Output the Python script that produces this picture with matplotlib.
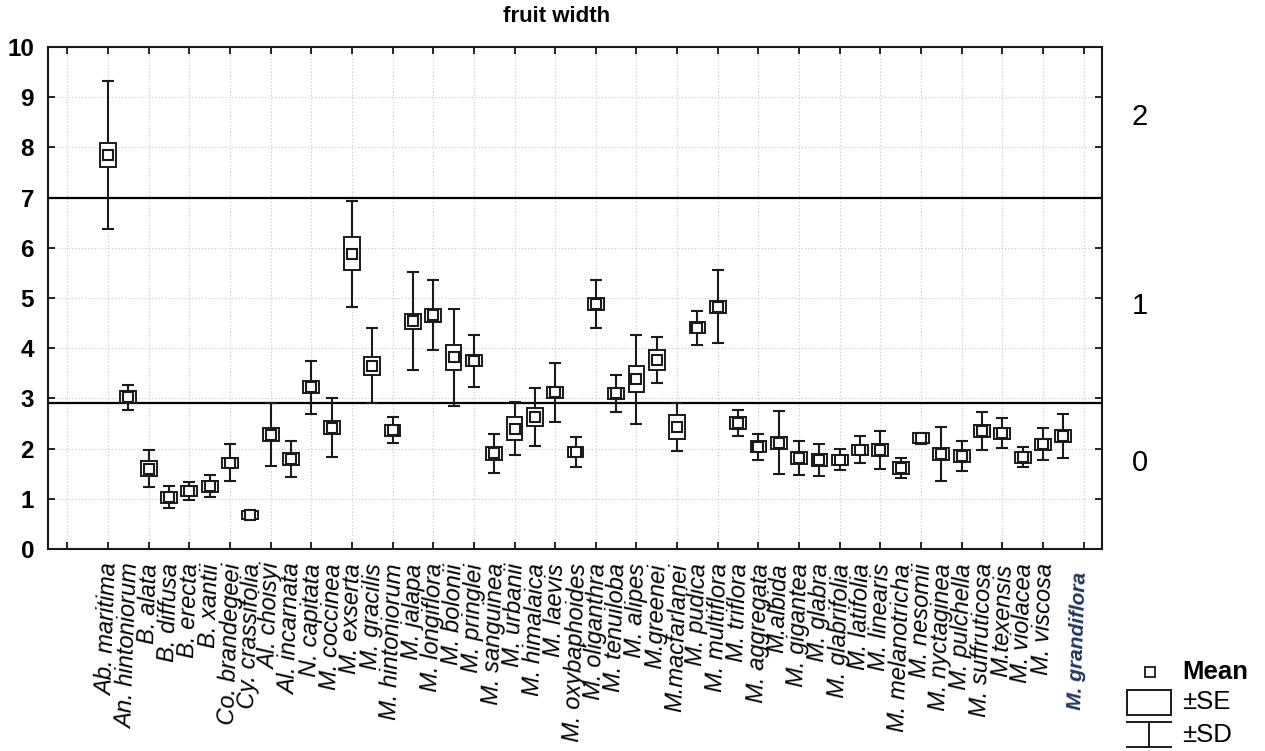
import matplotlib
matplotlib.use("Agg")
import matplotlib.pyplot as plt
import matplotlib.transforms as mtransforms
import numpy as np

plt.rcParams['font.family'] = ['Liberation Sans', 'DejaVu Sans']

species = ["Ab. maritima", "An. hintoniorum", "B. alata", "B. diffusa", "B. erecta",
           "B. xantii", "Co. brandegeei", "Cy. crassifolia", "Al. choisyi", "Al. incarnata",
           "N. capitata", "M. coccinea", "M. exserta", "M. gracilis", "M. hintoniorum",
           "M. jalapa", "M. longiflora", "M. bolonii", "M. pringlei", "M. sanguinea",
           "M. urbanii", "M. himalaica", "M. laevis", "M. oxybaphoides", "M. oliganthra",
           "M. tenuiloba", "M. alipes", "M.greenei", "M.macfarlanei", "M. pudica",
           "M. multiflora", "M. triflora", "M. aggregata", "M.albida", "M. gigantea",
           "M. glabra", "M. glabrifolia", "M. latifolia", "M. linearis", "M. melanotricha",
           "M. nesomii", "M. nyctaginea", "M. pulchella", "M. suffruticosa", "M.texensis",
           "M. violacea", "M. viscosa", "M. grandiflora"]

mean = [7.85, 3.02, 1.60, 1.03, 1.16, 1.25, 1.72, 0.68, 2.28, 1.79,
        3.22, 2.42, 5.88, 3.65, 2.37, 4.54, 4.66, 3.82, 3.75, 1.91,
        2.40, 2.63, 3.12, 1.93, 4.88, 3.10, 3.38, 3.76, 2.43, 4.41,
        4.83, 2.51, 2.04, 2.12, 1.82, 1.78, 1.78, 1.98, 1.98, 1.61,
        2.21, 1.90, 1.86, 2.35, 2.31, 1.83, 2.09, 2.25]

se = [0.24, 0.12, 0.15, 0.11, 0.10, 0.11, 0.10, 0.08, 0.13, 0.12,
      0.12, 0.13, 0.33, 0.18, 0.11, 0.15, 0.13, 0.25, 0.11, 0.13,
      0.23, 0.18, 0.11, 0.10, 0.12, 0.11, 0.26, 0.20, 0.23, 0.11,
      0.12, 0.11, 0.11, 0.12, 0.12, 0.12, 0.10, 0.10, 0.12, 0.12,
      0.10, 0.12, 0.12, 0.12, 0.11, 0.11, 0.11, 0.12]

sd = [1.47, 0.25, 0.37, 0.22, 0.18, 0.22, 0.37, 0.10, 0.62, 0.36,
      0.53, 0.58, 1.05, 0.75, 0.25, 0.98, 0.70, 0.97, 0.52, 0.39,
      0.52, 0.58, 0.59, 0.30, 0.48, 0.37, 0.88, 0.46, 0.47, 0.34,
      0.72, 0.25, 0.26, 0.63, 0.34, 0.32, 0.21, 0.27, 0.38, 0.20,
      0.11, 0.54, 0.30, 0.37, 0.29, 0.20, 0.32, 0.43]

group_lines = [7.0, 2.9]
group_labels = ["2", "1", "0"]
group_label_y = [8.6, 4.85, 1.71]

x = np.arange(len(species))
mean_a = np.array(mean)
se_a = np.array(se)
sd_a = np.array(sd)

fig = plt.figure(figsize=(12.65, 7.51), dpi=100)
ax = fig.add_axes([48/1265, 1-549/751, (1102-48)/1265, (549-47)/751])

ax.set_xlim(-2.95, 48.9)
ax.set_ylim(0, 10)

# grid
ax.set_axisbelow(True)
ax.grid(True, which='major', linestyle=(0, (1, 2)), color='#c8c8c8', linewidth=0.8)

# SD whiskers
ax.errorbar(x, mean_a, yerr=sd_a, fmt='none', ecolor='#1a1a1a', elinewidth=1.5,
            capsize=4, capthick=1.5, zorder=2)
# SE boxes
ax.bar(x, 2*se_a, bottom=mean_a-se_a, width=0.78, facecolor='white',
       edgecolor='#1a1a1a', linewidth=1.4, zorder=3)
# means
ax.plot(x, mean_a, linestyle='none', marker='s', markersize=7.5, markerfacecolor='white',
        markeredgecolor='#1a1a1a', markeredgewidth=1.5, zorder=4)

for yv in group_lines:
    ax.axhline(yv, color='black', linewidth=1.6, zorder=1.5)

# ticks
ax.xaxis.remove_overlapping_locs = False
ax.set_xticks(np.arange(-2, 49, 2))
ax.set_xticklabels([])
ax.set_xticks(x, minor=True)
ax.set_xticklabels(species[:-1] + [""], minor=True, rotation=88, ha='center', va='top',
                   fontsize=17, style='italic')
ax.tick_params(axis='x', which='minor', length=0, pad=10)
ax.tick_params(axis='x', which='major', direction='in', length=5, width=1.2, top=True, bottom=True)

ax.set_yticks(np.arange(0, 11, 1))
ax.set_yticklabels([str(v) for v in range(11)], fontsize=17.5, fontweight='bold')
ax.tick_params(axis='y', which='major', direction='in', length=5, width=1.2, left=True, right=True, pad=10)

for s in ax.spines.values():
    s.set_linewidth(1.5)
    s.set_color('#1a1a1a')

# highlighted last label
trans = mtransforms.blended_transform_factory(ax.transData, ax.transAxes)
ax.text(47.7, -0.045, species[-1], transform=trans, rotation=88, ha='center', va='top',
        fontsize=15, style='italic', fontweight='bold', color='#1f3358')

# group labels on right
trans2 = mtransforms.blended_transform_factory(ax.transAxes, ax.transData)
for lab, yv in zip(group_labels, group_label_y):
    ax.text(1.036, yv, lab, transform=trans2, ha='center', va='center', fontsize=21)

# title
fig.text(557/1265, 1-16/751, "fruit width", ha='center', va='center', fontsize=16, fontweight='bold')

# legend
lax = fig.add_axes([1120/1265, 0, 145/1265, 100/751])
lax.set_xlim(0, 145)
lax.set_ylim(100, 0)
lax.axis('off')
lax.plot([30], [21], marker='s', markersize=7.5, markerfacecolor='white',
         markeredgecolor='#1a1a1a', markeredgewidth=1.3, linestyle='none')
lax.text(62, 21, "Mean", fontsize=18.5, fontweight='bold', va='center', ha='left')
lax.add_patch(plt.Rectangle((7, 39), 44, 25, facecolor='white', edgecolor='#1a1a1a', linewidth=1.4))
lax.text(62, 51, "±SE", fontsize=18.5, va='center', ha='left')
lax.plot([7, 51], [71, 71], color='#1a1a1a', linewidth=1.4)
lax.plot([29, 29], [71, 96], color='#1a1a1a', linewidth=1.4)
lax.plot([7, 51], [96, 96], color='#1a1a1a', linewidth=1.4)
lax.text(62, 84, "±SD", fontsize=18.5, va='center', ha='left')

fig.savefig("out.png", dpi=100)
